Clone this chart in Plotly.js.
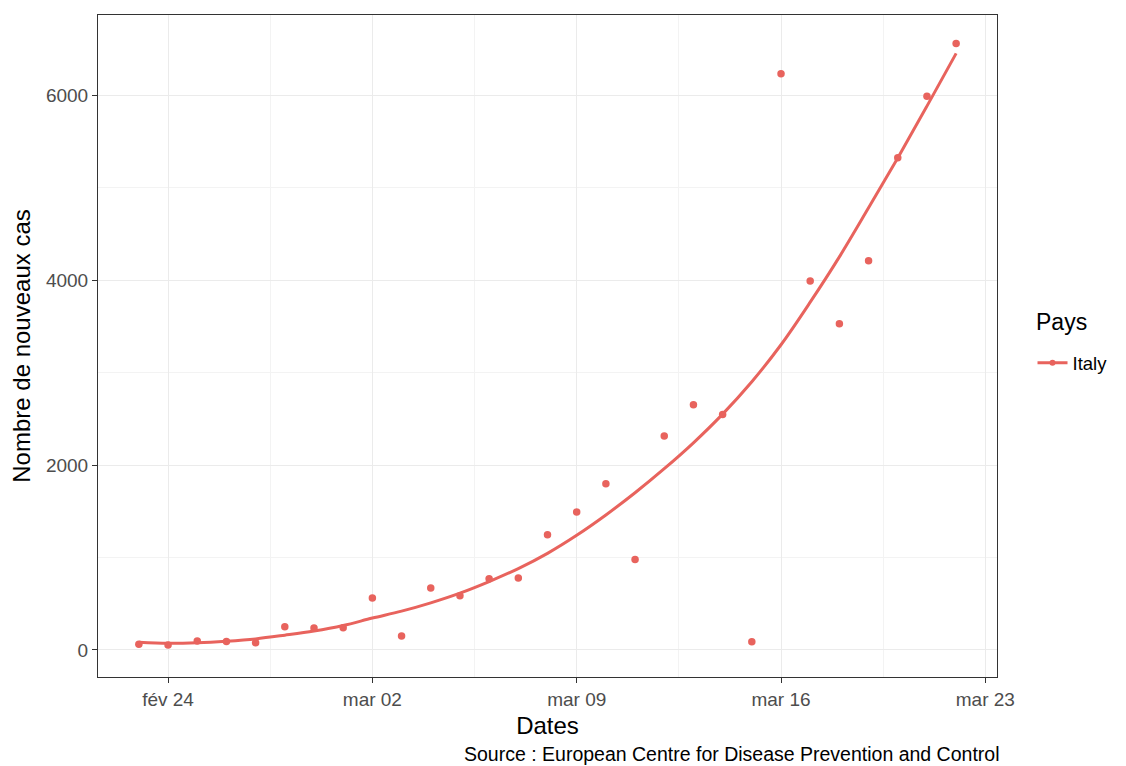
<!DOCTYPE html>
<html>
<head>
<meta charset="utf-8">
<script src="https://cdn.plot.ly/plotly-3.0.1.min.js"></script>
<style>html,body{margin:0;padding:0;background:#fff;}#chart{width:1126px;height:766px;}</style>
</head>
<body>
<div id="chart"></div>
<script>
const dates = ["2020-02-23","2020-02-24","2020-02-25","2020-02-26","2020-02-27","2020-02-28","2020-02-29",
  "2020-03-01","2020-03-02","2020-03-03","2020-03-04","2020-03-05","2020-03-06","2020-03-07","2020-03-08",
  "2020-03-09","2020-03-10","2020-03-11","2020-03-12","2020-03-13","2020-03-14","2020-03-15","2020-03-16",
  "2020-03-17","2020-03-18","2020-03-19","2020-03-20","2020-03-21","2020-03-22"];
const newCases = [62,53,97,93,78,250,238,240,561,150,670,587,769,778,1247,1492,1797,977,2313,2651,2547,
  90,6230,3990,3526,4207,5322,5986,6557];
const smoothFit = [85,72,78,95,120,160,205,265,345,420,510,615,740,880,1045,1240,1460,1700,1960,2240,2550,
  2900,3300,3760,4250,4780,5320,5880,6450];
const seriesName = "Italy";
const legendTitle = "Pays";
const xTickVals = ["2020-02-24","2020-03-02","2020-03-09","2020-03-16","2020-03-23"];
const xTickText = ["fév 24","mar 02","mar 09","mar 16","mar 23"];
const yTickVals = [0,2000,4000,6000];
const xTitle = "Dates";
const yTitle = "Nombre de nouveaux cas";
const caption = "Source : European Centre for Disease Prevention and Control";

const col = "#E8635D";
const font = "Liberation Sans, Arial, sans-serif";

const traces = [
  {x: dates, y: smoothFit, type: "scatter", mode: "lines", line: {color: col, width: 3, shape: "spline"},
   showlegend: false, hoverinfo: "skip"},
  {x: dates, y: newCases, type: "scatter", mode: "markers", name: seriesName,
   marker: {color: col, size: 7.5}, showlegend: false},
  {x: [null], y: [null], type: "scatter", mode: "lines+markers", name: seriesName,
   line: {color: col, width: 3}, marker: {color: col, size: 6}, showlegend: true}
];

const layout = {
  width: 1126, height: 766,
  margin: {l: 98, r: 129, t: 15, b: 89},
  paper_bgcolor: "#ffffff", plot_bgcolor: "#ffffff",
  font: {family: font, color: "#000"},
  xaxis: {
    type: "date",
    range: ["2020-02-21 14:24", "2020-03-23 09:36"],
    tickvals: xTickVals, ticktext: xTickText,
    tickfont: {size: 19, color: "#4D4D4D"},
    ticks: "outside", ticklen: 5, tickcolor: "#333333", tickwidth: 1,
    showgrid: true, gridcolor: "#EBEBEB", gridwidth: 1,
    minor: {dtick: 302400000, tick0: "2020-02-24", showgrid: true, gridcolor: "#F3F3F3", gridwidth: 1},
    showline: true, mirror: true, linecolor: "#333333", linewidth: 1,
    zeroline: false,
    title: {text: xTitle, font: {size: 24, color: "#000"}, standoff: 8}
  },
  yaxis: {
    range: [-292, 6865],
    tickvals: yTickVals, tickformat: "d",
    tickfont: {size: 19, color: "#4D4D4D"},
    ticks: "outside", ticklen: 5, tickcolor: "#333333", tickwidth: 1,
    showgrid: true, gridcolor: "#EBEBEB", gridwidth: 1,
    minor: {tickvals: [1000,3000,5000], showgrid: true, gridcolor: "#F3F3F3", gridwidth: 1},
    showline: true, mirror: true, linecolor: "#333333", linewidth: 1,
    zeroline: false,
    title: {text: yTitle, font: {size: 24, color: "#000"}, standoff: 8}
  },
  showlegend: true,
  legend: {
    x: 1.0395, y: 0.474, xanchor: "left", yanchor: "middle",
    font: {size: 18.5, color: "#000"},
    bgcolor: "rgba(0,0,0,0)"
  },
  annotations: [{
    text: caption, xref: "paper", yref: "paper", x: 1.004, y: -0.1163,
    xanchor: "right", yanchor: "middle", showarrow: false,
    font: {size: 19.5, color: "#000", family: font}
  }, {
    text: legendTitle, xref: "paper", yref: "paper", x: 1.0415, y: 0.536,
    xanchor: "left", yanchor: "middle", showarrow: false,
    font: {size: 23, color: "#000", family: font}
  }]
};

Plotly.newPlot("chart", traces, layout, {displayModeBar: false, staticPlot: true});
</script>
</body>
</html>
